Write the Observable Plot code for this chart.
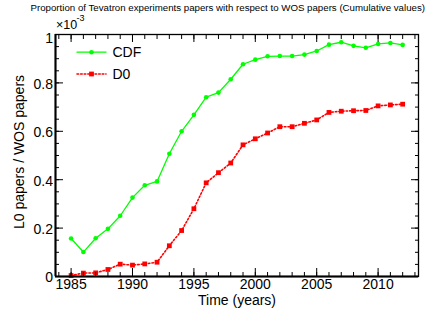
<!DOCTYPE html>
<html>
<head>
<meta charset="utf-8">
<script src="https://cdn.jsdelivr.net/npm/d3@7"></script>
<script src="https://cdn.jsdelivr.net/npm/@observablehq/plot@0.6"></script>
<style>
  html, body { margin: 0; padding: 0; background: #fff; }
  #chart svg { display: block; }
</style>
</head>
<body>
<div id="chart"></div>
<script>
// Data (values in units of 1e-3)
const years = [1985, 1986, 1987, 1988, 1989, 1990, 1991, 1992, 1993, 1994,
               1995, 1996, 1997, 1998, 1999, 2000, 2001, 2002, 2003, 2004,
               2005, 2006, 2007, 2008, 2009, 2010, 2011, 2012];
const cdf = [0.157, 0.101, 0.158, 0.197, 0.251, 0.326, 0.377, 0.393, 0.507, 0.600,
             0.668, 0.741, 0.760, 0.815, 0.877, 0.896, 0.910, 0.911, 0.911, 0.917,
             0.932, 0.958, 0.968, 0.953, 0.945, 0.961, 0.965, 0.957];
const d0 = [0.004, 0.014, 0.015, 0.029, 0.051, 0.047, 0.052, 0.059, 0.127, 0.190,
            0.280, 0.387, 0.429, 0.469, 0.544, 0.569, 0.593, 0.619, 0.619, 0.633,
            0.647, 0.678, 0.683, 0.685, 0.686, 0.705, 0.709, 0.712];
const seriesNames = ["CDF", "D0"];
const xMajor = [1985, 1990, 1995, 2000, 2005, 2010];
const xMinor = [1984, 1985, 1986, 1987, 1988, 1989, 1990, 1991, 1992, 1993, 1994, 1995, 1996, 1997, 1998, 1999,
                2000, 2001, 2002, 2003, 2004, 2005, 2006, 2007, 2008, 2009, 2010, 2011, 2012, 2013];
const yMajor = [0, 0.2, 0.4, 0.6, 0.8, 1];
const yLabelTicks = [0, 0.2, 0.4, 0.6, 0.8];
const yTopLabel = [1];
const yMinor = [0, 0.05, 0.1, 0.15, 0.2, 0.25, 0.3, 0.35, 0.4, 0.45, 0.5, 0.55, 0.6, 0.65, 0.7, 0.75, 0.8, 0.85, 0.9, 0.95, 1];
const titleText = "Proportion of Tevatron experiments papers with respect to WOS papers (Cumulative values)";
const xLabel = "Time (years)";
const yLabel = "L0 papers / WOS papers";
const expBase = "×10";
const expPow = "-3";

const cdfData = years.map((y, i) => ({year: y, v: cdf[i]}));
const d0Data = years.map((y, i) => ({year: y, v: d0[i]}));

const GREEN = "#00ff00";
const RED = "#ff0000";
const FONT = "'Liberation Sans', Arial, Helvetica, sans-serif";
const none = () => "";
const fmtY = d => String(+d.toFixed(2));

const lineShape = {
  draw(context, l) { context.moveTo(0, 0); context.lineTo(0, -l); }
};

const XMIN = 1983.73, XMAX = 2013.29;

const plot = Plot.plot({
  width: 428,
  height: 311,
  marginLeft: 55,
  marginRight: 10,
  marginTop: 34,
  marginBottom: 35,
  style: {fontFamily: FONT, background: "#fff", color: "#000"},
  x: {domain: [XMIN, XMAX]},
  y: {domain: [0, 1]},
  marks: [
    // data
    Plot.line(cdfData, {x: "year", y: "v", stroke: GREEN, strokeWidth: 1.3}),
    Plot.dot(cdfData, {x: "year", y: "v", r: 2.3, fill: GREEN, symbol: "circle"}),
    Plot.line(d0Data, {x: "year", y: "v", stroke: RED, strokeWidth: 1.6, strokeDasharray: "1.6,2"}),
    Plot.dot(d0Data, {x: "year", y: "v", r: 2.7, fill: RED, symbol: "square"}),
    // frame
    Plot.frame({stroke: "#000", strokeWidth: 1.3}),
    // y axis left
    Plot.axisY({ticks: yLabelTicks, anchor: "left", tickSize: 0, tickPadding: 2.5, dy: 1.5, tickFormat: fmtY, fontSize: 14, label: null}),
    Plot.axisY({ticks: yTopLabel, anchor: "left", tickSize: 0, tickPadding: 2.5, dy: 4.5, tickFormat: fmtY, fontSize: 14, label: null}),
    Plot.axisY({ticks: yMajor, anchor: "left", tickSize: -8, tickFormat: none, label: null, strokeWidth: 1}),
    Plot.axisY({ticks: yMinor, anchor: "left", tickSize: -4, tickFormat: none, label: null, strokeWidth: 1}),
    // y axis right
    Plot.axisY({ticks: yMajor, anchor: "right", tickSize: -8, tickFormat: none, label: null, strokeWidth: 1}),
    Plot.axisY({ticks: yMinor, anchor: "right", tickSize: -4, tickFormat: none, label: null, strokeWidth: 1}),
    // x axis bottom
    Plot.axisX({ticks: xMajor, anchor: "bottom", tickSize: 0, tickPadding: 2.5, tickFormat: d => String(d), fontSize: 14, label: null}),
    Plot.axisX({ticks: xMajor, anchor: "bottom", tickSize: -8, tickFormat: none, label: null, strokeWidth: 1}),
    Plot.axisX({ticks: xMinor, anchor: "bottom", tickSize: -4, tickFormat: none, label: null, strokeWidth: 1}),
    // x axis top
    Plot.axisX({ticks: xMajor, anchor: "top", tickSize: -7, tickFormat: none, label: null, strokeWidth: 1}),
    Plot.axisX({ticks: xMinor, anchor: "top", tickSize: -4, tickFormat: none, label: null, strokeWidth: 1}),
    // thick left & bottom axis lines
    Plot.ruleX([XMIN], {stroke: "#000", strokeWidth: 2}),
    Plot.ruleY([0], {stroke: "#000", strokeWidth: 2}),
    // titles
    Plot.text([titleText], {frameAnchor: "top-left", dx: -25, dy: -27, fontSize: 9.7, textAnchor: "start", lineAnchor: "middle", fill: "#000"}),
    Plot.text([expBase], {frameAnchor: "top-left", dx: 0.5, dy: -9.5, fontSize: 12.5, textAnchor: "start", lineAnchor: "middle", fill: "#000"}),
    Plot.text([expPow], {frameAnchor: "top-left", dx: 21, dy: -16.5, fontSize: 9, textAnchor: "start", lineAnchor: "middle", fill: "#000"}),
    Plot.text([xLabel], {frameAnchor: "bottom", dy: 24, fontSize: 14, textAnchor: "middle", lineAnchor: "middle", fill: "#000"}),
    Plot.text([yLabel], {frameAnchor: "left", rotate: -90, dx: -36, dy: -3.5, fontSize: 14, textAnchor: "middle", lineAnchor: "middle", fill: "#000"}),
    // legend
    Plot.vector([seriesNames[0]], {frameAnchor: "top-left", dx: 36, dy: 17.7, length: 29, rotate: 90, anchor: "middle", shape: lineShape, stroke: GREEN, strokeWidth: 1.3}),
    Plot.dot([seriesNames[0]], {frameAnchor: "top-left", dx: 36, dy: 17.7, r: 2.3, fill: GREEN, symbol: "circle"}),
    Plot.text([seriesNames[0]], {frameAnchor: "top-left", dx: 57, dy: 18.5, fontSize: 14, textAnchor: "start", lineAnchor: "middle", fill: "#000"}),
    Plot.vector([seriesNames[1]], {frameAnchor: "top-left", dx: 36, dy: 39.5, length: 29, rotate: 90, anchor: "middle", shape: lineShape, stroke: RED, strokeWidth: 1.6, strokeDasharray: "1.6,2"}),
    Plot.dot([seriesNames[1]], {frameAnchor: "top-left", dx: 36, dy: 39.5, r: 2.7, fill: RED, symbol: "square"}),
    Plot.text([seriesNames[1]], {frameAnchor: "top-left", dx: 57, dy: 40, fontSize: 14, textAnchor: "start", lineAnchor: "middle", fill: "#000"})
  ]
});
document.getElementById("chart").appendChild(plot);
</script>
</body>
</html>
